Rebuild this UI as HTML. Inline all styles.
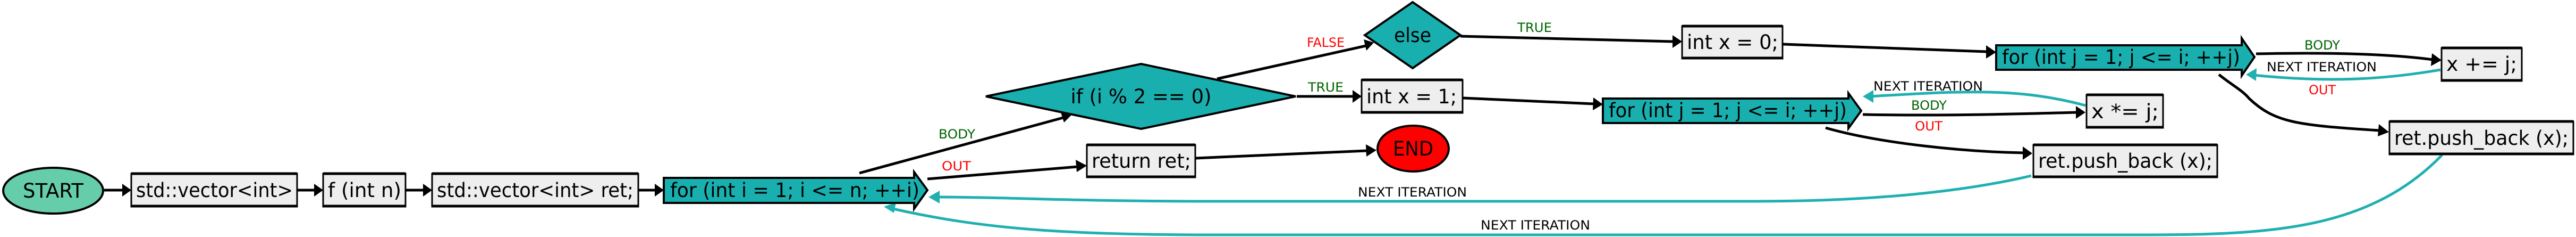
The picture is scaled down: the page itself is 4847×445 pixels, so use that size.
<!DOCTYPE html>
<html><head><meta charset="utf-8"><style>
html,body{margin:0;padding:0;background:#fff;}
svg{display:block;}
text{font-family:"DejaVu Sans","Liberation Sans",sans-serif;}
.n{font-size:37px;fill:#000;}
.l{font-size:24px;}
</style></head><body>
<svg width="4847" height="445" viewBox="0 0 4847 445" xmlns="http://www.w3.org/2000/svg">
<defs>
<marker id="ab" markerWidth="10" markerHeight="10" refX="9" refY="5" orient="auto" markerUnits="userSpaceOnUse" viewBox="0 0 10 10"><path d="M0,0 L10,5 L0,10 z" fill="#000"/></marker>
<marker id="at" markerWidth="10" markerHeight="10" refX="9" refY="5" orient="auto" markerUnits="userSpaceOnUse" viewBox="0 0 10 10"><path d="M0,0 L10,5 L0,10 z" fill="#20b0b0"/></marker>
</defs>
<style>
.e{fill:none;stroke:#000;stroke-width:5;}
.t{fill:none;stroke:#20b0b0;stroke-width:5;}
.bx{fill:#eee;stroke:#000;stroke-width:3;}
.tl{fill:#19afaf;stroke:#000;stroke-width:4;}
</style>
<g transform="scale(1)">
<!-- edges -->
<g>
<path class="e" d="M196,357 L244,357"/><path d="M230,345 L247,357 L230,369z"/>
<path class="e" d="M560,357 L605,357"/><path d="M591,345 L608,357 L591,369z"/>
<path class="e" d="M764,357 L810,357"/><path d="M796,345 L813,357 L796,369z"/>
<path class="e" d="M1202,357 L1246,357"/><path d="M1232,345 L1249,357 L1232,369z"/>
</g>
<line x1="1617" y1="325" x2="2004" y2="220" stroke="#000" stroke-width="5"/><path d="M1995,208 L2018,214 L2002,230z"/>
<line x1="1745" y1="336" x2="2028" y2="313" stroke="#000" stroke-width="5"/><path d="M2024,300 L2045,311 L2026,323z"/>
<line x1="2250" y1="297" x2="2572" y2="283" stroke="#000" stroke-width="5"/><path d="M2570,271 L2590,282 L2571,294z"/>
<line x1="2290" y1="148" x2="2570" y2="86" stroke="#000" stroke-width="5"/><path d="M2566,74 L2585,80 L2571,95z"/>
<line x1="2440" y1="181" x2="2545" y2="181" stroke="#000" stroke-width="5"/><path d="M2545,169 L2562,181 L2545,193z"/>
<line x1="2748" y1="68" x2="3148" y2="78" stroke="#000" stroke-width="5"/><path d="M3147,66 L3165,78 L3147,90z"/>
<line x1="2752" y1="184" x2="2998" y2="195" stroke="#000" stroke-width="5"/><path d="M2998,183 L3016,196 L2997,207z"/>
<line x1="3355" y1="83" x2="3738" y2="97" stroke="#000" stroke-width="5"/><path d="M3737,85 L3756,98 L3737,110z"/>
<path class="e" d="M4245,101 C4400,98 4500,102 4578,112"/><path d="M4576,100 L4594,113 L4574,124z"/>
<path class="t" d="M4592,131 C4480,150 4380,155 4240,141"/><path d="M4246,128 L4226,140 L4245,152z" fill="#20b0b0"/>
<path class="e" d="M4175,140 C4200,160 4220,170 4232,185 C4280,230 4320,235 4478,245"/><path d="M4476,233 L4495,248 L4474,256z"/>
<path class="e" d="M3505,215 C3650,218 3800,214 3908,211"/><path d="M3906,199 L3924,211 L3906,223z"/>
<path class="t" d="M3924,198 C3800,165 3700,170 3520,181"/><path d="M3525,169 L3505,181 L3525,193z" fill="#20b0b0"/>
<path class="e" d="M3435,240 C3540,270 3700,285 3808,287"/><path d="M3806,275 L3824,288 L3806,300z"/>
<path class="t" d="M3822,330 C3650,370 3450,378 3300,378 L2300,378 C2000,378 1900,370 1765,370"/><path d="M1768,358 L1747,370 L1768,382z" fill="#20b0b0"/>
<path class="t" d="M4595,291 C4450,440 4250,441 4000,441 L2300,441 C2000,441 1850,430 1680,392"/><path d="M1686,380 L1663,388 L1682,400z" fill="#20b0b0"/>
<!-- nodes -->
<ellipse cx="100" cy="358" rx="94" ry="43" fill="#66cdaa" stroke="#000" stroke-width="4"/>
<text class="n" x="100" y="371" text-anchor="middle" textLength="114" lengthAdjust="spacingAndGlyphs">START</text>
<rect class="bx" x="247" y="326" width="312" height="62"/><line x1="247" y1="326" x2="559" y2="326" stroke="#000" stroke-width="5"/><line x1="247" y1="387" x2="559" y2="387" stroke="#000" stroke-width="5"/>
<text class="n" x="256" y="370" textLength="295" lengthAdjust="spacingAndGlyphs">std::vector&lt;int&gt;</text>
<rect class="bx" x="608" y="326" width="155" height="62"/><line x1="608" y1="326" x2="763" y2="326" stroke="#000" stroke-width="5"/><line x1="608" y1="387" x2="763" y2="387" stroke="#000" stroke-width="5"/>
<text class="n" x="617" y="370" textLength="138" lengthAdjust="spacingAndGlyphs">f (int n)</text>
<rect class="bx" x="813" y="326" width="388" height="62"/><line x1="813" y1="326" x2="1201" y2="326" stroke="#000" stroke-width="5"/><line x1="813" y1="387" x2="1201" y2="387" stroke="#000" stroke-width="5"/>
<text class="n" x="822" y="370" textLength="370" lengthAdjust="spacingAndGlyphs">std::vector&lt;int&gt; ret;</text>
<path class="tl" d="M1249,334 L1720,334 L1720,323 L1745,357 L1720,392 L1720,381 L1249,381 z"/>
<text class="n" x="1261" y="370" textLength="469" lengthAdjust="spacingAndGlyphs">for (int i = 1; i &lt;= n; ++i)</text>
<polygon points="1855,181 2147,120 2438,181 2147,242" fill="#19afaf" stroke="#000" stroke-width="4"/>
<text class="n" x="2147" y="194" text-anchor="middle" textLength="265" lengthAdjust="spacingAndGlyphs">if (i % 2 == 0)</text>
<polygon points="2568,66 2658,4 2748,66 2658,128" fill="#19afaf" stroke="#000" stroke-width="4"/>
<text class="n" x="2658" y="79" text-anchor="middle" textLength="70" lengthAdjust="spacingAndGlyphs">else</text>
<rect class="bx" x="3165" y="49" width="189" height="61"/><line x1="3165" y1="49" x2="3354" y2="49" stroke="#000" stroke-width="5"/><line x1="3165" y1="109" x2="3354" y2="109" stroke="#000" stroke-width="5"/>
<text class="n" x="3174" y="92" textLength="172" lengthAdjust="spacingAndGlyphs">int x = 0;</text>
<rect class="bx" x="2562" y="150" width="190" height="62"/><line x1="2562" y1="150" x2="2752" y2="150" stroke="#000" stroke-width="5"/><line x1="2562" y1="211" x2="2752" y2="211" stroke="#000" stroke-width="5"/>
<text class="n" x="2571" y="194" textLength="170" lengthAdjust="spacingAndGlyphs">int x = 1;</text>
<rect class="bx" x="2045" y="272" width="204" height="61"/><line x1="2045" y1="272" x2="2249" y2="272" stroke="#000" stroke-width="5"/><line x1="2045" y1="332" x2="2249" y2="332" stroke="#000" stroke-width="5"/>
<text class="n" x="2054" y="315" textLength="187" lengthAdjust="spacingAndGlyphs">return ret;</text>
<ellipse cx="2659" cy="279" rx="67" ry="43" fill="#f00" stroke="#000" stroke-width="4"/>
<text class="n" x="2659" y="292" text-anchor="middle" textLength="76" lengthAdjust="spacingAndGlyphs">END</text>
<path class="tl" d="M3016,185 L3478,185 L3478,175 L3502,208 L3478,241 L3478,231 L3016,231 z"/>
<text class="n" x="3027" y="220" textLength="448" lengthAdjust="spacingAndGlyphs">for (int j = 1; j &lt;= i; ++j)</text>
<path class="tl" d="M3756,85 L4218,85 L4218,72 L4242,107 L4218,142 L4218,131 L3756,131 z"/>
<text class="n" x="3767" y="120" textLength="448" lengthAdjust="spacingAndGlyphs">for (int j = 1; j &lt;= i; ++j)</text>
<rect class="bx" x="4594" y="90" width="151" height="62"/><line x1="4594" y1="90" x2="4745" y2="90" stroke="#000" stroke-width="5"/><line x1="4594" y1="151" x2="4745" y2="151" stroke="#000" stroke-width="5"/>
<text class="n" x="4603" y="133" textLength="133" lengthAdjust="spacingAndGlyphs">x += j;</text>
<rect class="bx" x="3926" y="178" width="144" height="62"/><line x1="3926" y1="178" x2="4070" y2="178" stroke="#000" stroke-width="5"/><line x1="3926" y1="239" x2="4070" y2="239" stroke="#000" stroke-width="5"/>
<text class="n" x="3935" y="222" textLength="127" lengthAdjust="spacingAndGlyphs">x *= j;</text>
<rect class="bx" x="3826" y="272" width="346" height="61"/><line x1="3826" y1="272" x2="4172" y2="272" stroke="#000" stroke-width="5"/><line x1="3826" y1="332" x2="4172" y2="332" stroke="#000" stroke-width="5"/>
<text class="n" x="3835" y="315" textLength="328" lengthAdjust="spacingAndGlyphs">ret.push_back (x);</text>
<rect class="bx" x="4496" y="228" width="346" height="62"/><line x1="4496" y1="228" x2="4842" y2="228" stroke="#000" stroke-width="5"/><line x1="4496" y1="289" x2="4842" y2="289" stroke="#000" stroke-width="5"/>
<text class="n" x="4505" y="272" textLength="328" lengthAdjust="spacingAndGlyphs">ret.push_back (x);</text>
<!-- labels -->
<text class="l" fill="#006400" x="1766" y="260" textLength="69" lengthAdjust="spacingAndGlyphs">BODY</text>
<text class="l" fill="#f00" x="1772" y="320" textLength="55" lengthAdjust="spacingAndGlyphs">OUT</text>
<text class="l" fill="#f00" x="2459" y="88" textLength="71" lengthAdjust="spacingAndGlyphs">FALSE</text>
<text class="l" fill="#006400" x="2855" y="60" textLength="65" lengthAdjust="spacingAndGlyphs">TRUE</text>
<text class="l" fill="#006400" x="2461" y="172" textLength="67" lengthAdjust="spacingAndGlyphs">TRUE</text>
<text class="l" fill="#000" x="2555" y="369" textLength="205" lengthAdjust="spacingAndGlyphs">NEXT ITERATION</text>
<text class="l" fill="#000" x="2786" y="431" textLength="206" lengthAdjust="spacingAndGlyphs">NEXT ITERATION</text>
<text class="l" fill="#006400" x="4336" y="93" textLength="67" lengthAdjust="spacingAndGlyphs">BODY</text>
<text class="l" fill="#000" x="4265" y="134" textLength="207" lengthAdjust="spacingAndGlyphs">NEXT ITERATION</text>
<text class="l" fill="#f00" x="4344" y="177" textLength="51" lengthAdjust="spacingAndGlyphs">OUT</text>
<text class="l" fill="#000" x="3525" y="170" textLength="206" lengthAdjust="spacingAndGlyphs">NEXT ITERATION</text>
<text class="l" fill="#006400" x="3596" y="206" textLength="67" lengthAdjust="spacingAndGlyphs">BODY</text>
<text class="l" fill="#f00" x="3603" y="245" textLength="52" lengthAdjust="spacingAndGlyphs">OUT</text>
</g>
</svg>
</body></html>
